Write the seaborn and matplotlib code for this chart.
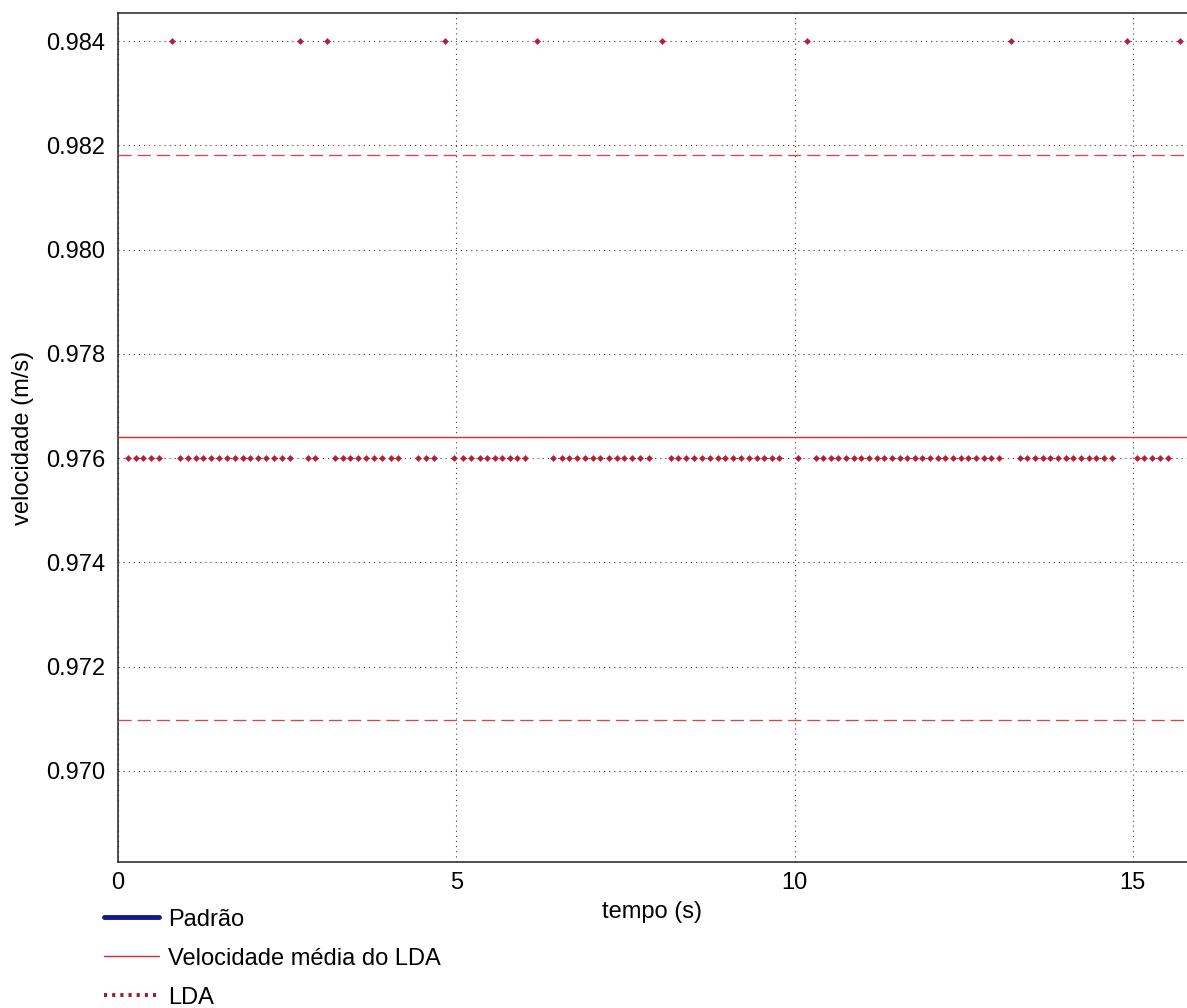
import matplotlib
matplotlib.use("Agg")
import matplotlib.pyplot as plt
from matplotlib.lines import Line2D
import seaborn as sns
import pandas as pd

# LDA samples (time in s, velocity in m/s) -- the instrument output is quantised
lda_time = [
    0.145, 0.264, 0.377, 0.492, 0.601, 0.805, 0.914, 1.028, 1.148, 1.262,
    1.382, 1.495, 1.610, 1.729, 1.844, 1.952, 2.072, 2.186, 2.300, 2.425,
    2.548, 2.683, 2.802, 2.917, 3.092, 3.209, 3.323, 3.432, 3.547, 3.666,
    3.785, 3.905, 4.030, 4.140, 4.441, 4.550, 4.676, 4.837, 4.973, 5.097,
    5.220, 5.345, 5.453, 5.568, 5.676, 5.791, 5.899, 6.014, 6.187, 6.434,
    6.557, 6.672, 6.780, 6.905, 7.018, 7.128, 7.251, 7.374, 7.484, 7.597,
    7.722, 7.845, 8.039, 8.168, 8.281, 8.400, 8.514, 8.629, 8.748, 8.861,
    8.975, 9.094, 9.209, 9.322, 9.440, 9.555, 9.669, 9.777, 10.048, 10.190,
    10.316, 10.423, 10.535, 10.646, 10.762, 10.875, 10.987, 11.103, 11.214, 11.327,
    11.443, 11.555, 11.666, 11.774, 11.885, 12.001, 12.114, 12.226, 12.343, 12.453,
    12.566, 12.682, 12.795, 12.905, 13.022, 13.192, 13.328, 13.440, 13.557, 13.669,
    13.780, 13.896, 14.009, 14.121, 14.237, 14.348, 14.461, 14.577, 14.689, 14.913,
    15.054, 15.165, 15.281, 15.394, 15.515, 15.700,
]
lda_vel = [
    0.976, 0.976, 0.976, 0.976, 0.976, 0.984, 0.976, 0.976, 0.976, 0.976,
    0.976, 0.976, 0.976, 0.976, 0.976, 0.976, 0.976, 0.976, 0.976, 0.976,
    0.976, 0.984, 0.976, 0.976, 0.984, 0.976, 0.976, 0.976, 0.976, 0.976,
    0.976, 0.976, 0.976, 0.976, 0.976, 0.976, 0.976, 0.984, 0.976, 0.976,
    0.976, 0.976, 0.976, 0.976, 0.976, 0.976, 0.976, 0.976, 0.984, 0.976,
    0.976, 0.976, 0.976, 0.976, 0.976, 0.976, 0.976, 0.976, 0.976, 0.976,
    0.976, 0.976, 0.984, 0.976, 0.976, 0.976, 0.976, 0.976, 0.976, 0.976,
    0.976, 0.976, 0.976, 0.976, 0.976, 0.976, 0.976, 0.976, 0.976, 0.984,
    0.976, 0.976, 0.976, 0.976, 0.976, 0.976, 0.976, 0.976, 0.976, 0.976,
    0.976, 0.976, 0.976, 0.976, 0.976, 0.976, 0.976, 0.976, 0.976, 0.976,
    0.976, 0.976, 0.976, 0.976, 0.976, 0.984, 0.976, 0.976, 0.976, 0.976,
    0.976, 0.976, 0.976, 0.976, 0.976, 0.976, 0.976, 0.976, 0.976, 0.984,
    0.976, 0.976, 0.976, 0.976, 0.976, 0.984,
]

# Statistics of the LDA record
vel_mean = 0.97640
vel_upper = 0.98182
vel_lower = 0.97098

legend_labels = ["Padrão", "Velocidade média do LDA", "LDA"]
x_ticks = [0, 5, 10, 15]
y_ticks = [0.970, 0.972, 0.974, 0.976, 0.978, 0.980, 0.982, 0.984]

sns.set_theme(style="white")
plt.rcParams["font.family"] = ["Liberation Sans", "DejaVu Sans"]

FS = 17
fig = plt.figure(figsize=(11.87, 10.08), dpi=100)
ax = fig.add_axes([0.0994, 0.1448, 0.9006, 0.8423])

df = pd.DataFrame({"tempo": lda_time, "velocidade": lda_vel})

mean_color = "#d92b2b"
band_color = "#d84545"
lda_color = "#b81d33"

ax.axhline(vel_mean, color=mean_color, lw=1.0, zorder=3)
ax.axhline(vel_upper, color=band_color, lw=0.95, ls=(0, (10, 4.5)), zorder=3)
ax.axhline(vel_lower, color=band_color, lw=0.95, ls=(0, (10, 4.5)), zorder=3)

sns.scatterplot(data=df, x="tempo", y="velocidade", ax=ax, marker="D",
                s=10, color=lda_color, edgecolor=lda_color, linewidth=0.3,
                zorder=4, legend=False)

ax.set_xlim(0, 15.8)
ax.set_ylim(0.968253, 0.984537)
ax.set_xticks(x_ticks)
ax.set_xticklabels([str(v) for v in x_ticks])
ax.set_yticks(y_ticks)
ax.set_yticklabels([f"{v:.3f}" for v in y_ticks])

ax.grid(True, color="#3a3a3a", lw=0.8, ls=(0, (1, 3.6)))
ax.set_axisbelow(True)
for name, sp in ax.spines.items():
    sp.set_color("#222222")
    sp.set_linewidth(1.1)
ax.spines["right"].set_visible(False)

ax.tick_params(axis="both", direction="in", length=7, width=1.0,
               color="#222222", labelsize=FS, pad=9, colors="black")
ax.tick_params(axis="x", pad=7)

ax.set_xlabel("tempo (s)", fontsize=FS, labelpad=5, color="black")
ax.set_ylabel("velocidade (m/s)", fontsize=FS, labelpad=9, color="black")

handles = [
    Line2D([], [], color="#101a8c", lw=3.5),
    Line2D([], [], color=mean_color, lw=1.0),
    # dotted marker row for the LDA legend sample
    Line2D([], [], color="#a01a2c", lw=2.8, ls=(0, (0.8, 1.3))),
]

fig.legend(handles, legend_labels, loc="upper left",
           bbox_to_anchor=(0.088, 0.0985), frameon=False, fontsize=FS,
           labelcolor="black",
           handlelength=2.3, handletextpad=0.4, labelspacing=0.72,
           borderpad=0, borderaxespad=0)

fig.savefig("out.png", dpi=100)
